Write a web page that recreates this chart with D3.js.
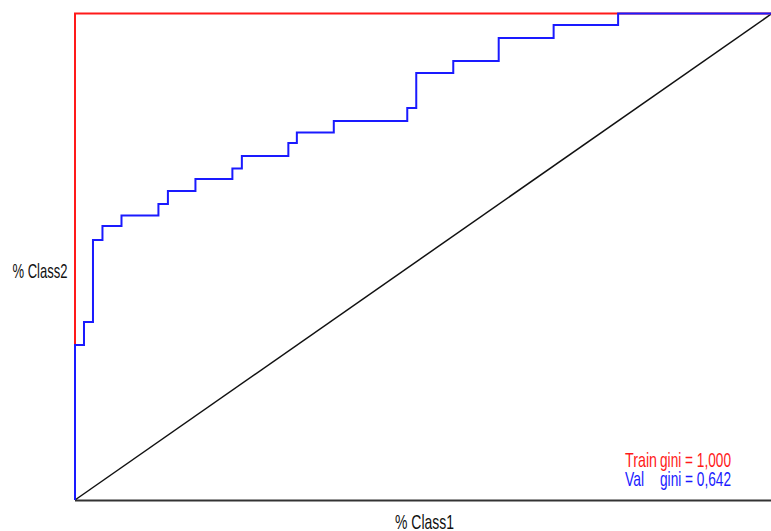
<!DOCTYPE html>
<html>
<head>
<meta charset="utf-8">
<script src="https://cdn.jsdelivr.net/npm/d3@7"></script>
<style>
html, body { margin: 0; padding: 0; background: #fff; }
svg { display: block; }
text { font-family: "Liberation Sans", Arial, sans-serif; }
</style>
</head>
<body>
<svg id="chart" width="771" height="531"></svg>
<script>
// ---- data ----
const valFpr = [0, 1.29, 2.58, 3.94, 6.67, 11.97, 13.33, 17.28, 22.58, 23.94, 30.61, 31.83, 37.13, 47.67, 48.96, 54.27, 60.79, 68.67, 77.92, 100];
const valTpr = [0, 31.86, 36.59, 53.44, 56.32, 58.48, 60.84, 63.51, 65.98, 68.14, 70.71, 73.38, 75.54, 77.90, 80.58, 87.77, 90.24, 94.96, 97.64, 100];
const trainFpr = [0, 0, 100];
const trainTpr = [0, 100, 100];
const diagFpr = [0, 100];
const diagTpr = [0, 100];
const xLabel = "% Class1";
const yLabel = "% Class2";
const legendNames = ["Train", "Val"];
const legendGini = ["gini = 1,000", "gini = 0,642"];

// ---- layout ----
const svg = d3.select("#chart");
const x = d3.scaleLinear().domain([0, 100]).range([75, 772]);
const y = d3.scaleLinear().domain([0, 100]).range([500, 13.5]);

const toPts = (xs, ys) => xs.map((v, i) => [v, ys[i]]);

// bottom axis line
svg.append("line")
  .attr("x1", x(0)).attr("x2", 771)
  .attr("y1", y(0) + 0.5).attr("y2", y(0) + 0.5)
  .attr("stroke", "#333").attr("stroke-width", 2);

// diagonal
svg.append("path")
  .datum(toPts(diagFpr, diagTpr))
  .attr("d", d3.line().x(d => x(d[0])).y(d => y(d[1])))
  .attr("fill", "none").attr("stroke", "#111").attr("stroke-width", 1.5);

// train curve
svg.append("path")
  .datum(toPts(trainFpr, trainTpr))
  .attr("d", d3.line().x(d => x(d[0])).y(d => y(d[1])))
  .attr("fill", "none").attr("stroke", "#ff1a1a").attr("stroke-width", 2);

// val curve (step)
svg.append("path")
  .datum(toPts(valFpr, valTpr))
  .attr("d", d3.line().curve(d3.curveStepBefore).x(d => x(d[0])).y(d => y(d[1])))
  .attr("fill", "none").attr("stroke", "#1a1aff").attr("stroke-width", 2);

// axis labels
svg.append("text").text(yLabel)
  .attr("x", 12.5).attr("y", 278)
  .attr("font-size", 21).attr("textLength", 55).attr("lengthAdjust", "spacingAndGlyphs")
  .attr("fill", "#111");
svg.append("text").text(xLabel)
  .attr("x", 395).attr("y", 529)
  .attr("font-size", 21).attr("textLength", 59).attr("lengthAdjust", "spacingAndGlyphs")
  .attr("fill", "#111");

// legend
const legColors = ["#ff1a1a", "#1a1aff"];
const nameWidths = [32, 19];
legendNames.forEach((n, i) => {
  const by = 467 + i * 19;
  svg.append("text").text(n)
    .attr("x", 625).attr("y", by)
    .attr("font-size", 21).attr("textLength", nameWidths[i]).attr("lengthAdjust", "spacingAndGlyphs")
    .attr("fill", legColors[i]);
  svg.append("text").text(legendGini[i])
    .attr("x", 660).attr("y", by)
    .attr("font-size", 21).attr("textLength", 71).attr("lengthAdjust", "spacingAndGlyphs")
    .attr("fill", legColors[i]);
});
</script>
</body>
</html>
